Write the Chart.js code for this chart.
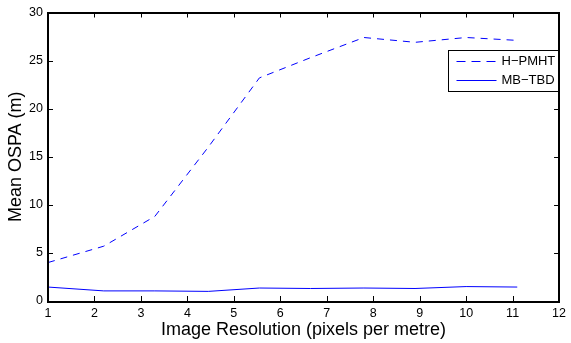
<!DOCTYPE html>
<html>
<head>
<meta charset="utf-8">
<script src="https://cdn.jsdelivr.net/npm/chart.js@4.4.1/dist/chart.umd.min.js"></script>
<style>
  html, body { margin: 0; padding: 0; background: #fff; }
  #wrap { width: 571px; height: 343px; }
</style>
</head>
<body>
<div id="wrap"><canvas id="chart" width="571" height="343"></canvas></div>
<script>
// Data
const resolution = [1.0, 2.2, 3.3, 4.45, 5.55, 6.65, 7.8, 8.9, 10.0, 11.1];
const hpmht = [4.0, 5.7, 8.8, 16.0, 23.2, 25.3, 27.4, 26.9, 27.4, 27.1];
const mbtbd = [1.45, 1.05, 1.05, 1.0, 1.35, 1.3, 1.35, 1.3, 1.5, 1.45];
const xTicks = [1, 2, 3, 4, 5, 6, 7, 8, 9, 10, 11, 12];
const yTicks = [0, 5, 10, 15, 20, 25, 30];

const FONT = 'Liberation Sans, Arial, Helvetica, sans-serif';

const toPoints = (xs, ys) => xs.map((x, i) => ({ x: x, y: ys[i] }));

// MATLAB style box with inward ticks on all four sides
const boxPlugin = {
    id: 'box',
    afterDatasetsDraw(chart) {
        const { ctx, chartArea: a, scales: { x, y } } = chart;
        ctx.save();
        ctx.strokeStyle = '#000';
        ctx.lineWidth = 1;
        const len = 5;
        ctx.beginPath();
        xTicks.forEach(v => {
            const px = Math.round(x.getPixelForValue(v)) + 0.5;
            ctx.moveTo(px, a.bottom); ctx.lineTo(px, a.bottom - len);
            ctx.moveTo(px, a.top); ctx.lineTo(px, a.top + len);
        });
        yTicks.forEach(v => {
            const py = Math.round(y.getPixelForValue(v)) + 0.5;
            ctx.moveTo(a.left, py); ctx.lineTo(a.left + len, py);
            ctx.moveTo(a.right, py); ctx.lineTo(a.right - len, py);
        });
        ctx.stroke();
        ctx.lineWidth = 2;
        ctx.strokeRect(Math.round(a.left), Math.round(a.top),
            Math.round(a.right - a.left), Math.round(a.bottom - a.top));

        // legend box, top right inside the axes
        ctx.lineWidth = 1;
        const bx = 448.5, by = 50.5, bw = 110, bh = 41;
        ctx.fillStyle = '#fff';
        ctx.fillRect(bx, by, bw, bh);
        ctx.strokeRect(bx, by, bw, bh);
        ctx.font = '13px ' + FONT;
        ctx.textBaseline = 'middle';
        chart.data.datasets.forEach((ds, i) => {
            const ly = by + 11 + i * 19;
            ctx.strokeStyle = ds.borderColor;
            ctx.setLineDash(ds.borderDash ? [9, 6] : []);
            ctx.beginPath();
            ctx.moveTo(bx + 8, ly); ctx.lineTo(bx + 48, ly);
            ctx.stroke();
            ctx.setLineDash([]);
            ctx.fillStyle = '#000';
            ctx.fillText(ds.label, bx + 53, ly);
        });
        ctx.restore();
    }
};

new Chart(document.getElementById('chart'), {
    type: 'line',
    data: {
        datasets: [
            {
                label: 'H\u2212PMHT',
                data: toPoints(resolution, hpmht),
                borderColor: '#0000ff',
                borderWidth: 1,
                borderDash: [7, 6],
                pointRadius: 0,
                tension: 0
            },
            {
                label: 'MB\u2212TBD',
                data: toPoints(resolution, mbtbd),
                borderColor: '#0000ff',
                borderWidth: 1,
                pointRadius: 0,
                tension: 0
            }
        ]
    },
    options: {
        responsive: false,
        animation: false,
        layout: { padding: { top: 12, right: 7, left: 0, bottom: 0 } },
        plugins: { legend: { display: false }, tooltip: { enabled: false } },
        scales: {
            x: {
                type: 'linear',
                min: 1, max: 12,
                afterBuildTicks: s => { s.ticks = xTicks.map(v => ({ value: v })); },
                afterFit: s => { s.height = 42; },
                grid: { display: false, drawTicks: false },
                border: { display: false },
                ticks: { color: '#000', padding: 5, maxRotation: 0, font: { family: FONT, size: 12.5 } },
                title: {
                    display: true,
                    text: 'Image Resolution (pixels per metre)',
                    color: '#000',
                    font: { family: FONT, size: 18 },
                    padding: { top: 0, bottom: 2 }
                }
            },
            y: {
                type: 'linear',
                min: 0, max: 30,
                afterBuildTicks: s => { s.ticks = yTicks.map(v => ({ value: v })); },
                afterFit: s => { s.width = 48; },
                grid: { display: false, drawTicks: false },
                border: { display: false },
                ticks: { color: '#000', padding: 5, font: { family: FONT, size: 12.5 } },
                title: {
                    display: true,
                    text: 'Mean OSPA (m)',
                    color: '#000',
                    font: { family: FONT, size: 18 },
                    padding: { top: 5, bottom: 0 }
                }
            }
        }
    },
    plugins: [boxPlugin]
});
</script>
</body>
</html>
